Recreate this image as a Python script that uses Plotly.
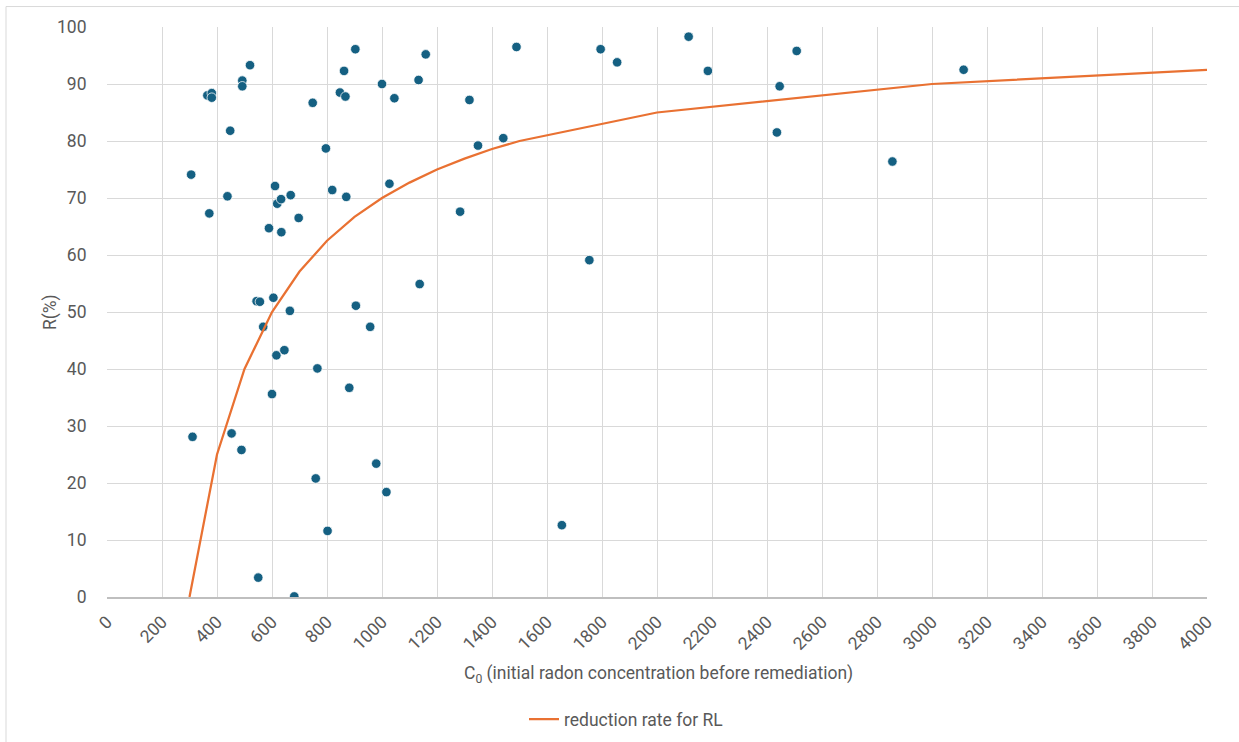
import plotly.graph_objects as go

# Measured houses: initial radon concentration C0 and reduction rate R (%)
c0_measured = [
    306, 311, 365, 381, 381, 372, 448, 438, 453, 492, 492, 489, 520,
    550, 544, 556, 568, 589, 600, 605, 611, 619, 633, 616, 634, 645,
    668, 665, 681, 697, 748, 759, 765, 796, 802, 819, 847, 862, 867,
    870, 881, 903, 905, 957, 979, 1000, 1016, 1027, 1045, 1133, 1137,
    1159, 1284, 1318, 1349, 1441, 1489, 1654, 1754, 1795, 1855, 2115,
    2185, 2436, 2446, 2508, 2856, 3115,
]
r_measured = [
    74.1, 28.1, 88.0, 88.4, 87.6, 67.3, 81.8, 70.3, 28.7, 90.6, 89.6, 25.8, 93.3,
    3.4, 51.9, 51.8, 47.4, 64.7, 35.6, 52.5, 72.1, 69.0, 69.8, 42.4, 64.0, 43.3,
    70.5, 50.2, 0.1, 66.5, 86.7, 20.8, 40.1, 78.7, 11.6, 71.4, 88.5, 92.3, 87.8,
    70.2, 36.7, 96.1, 51.1, 47.4, 23.4, 90.0, 18.4, 72.5, 87.5, 90.7, 54.9,
    95.2, 67.6, 87.2, 79.2, 80.5, 96.5, 12.6, 59.1, 96.1, 93.8, 98.3,
    92.3, 81.5, 89.6, 95.8, 76.4, 92.5,
]

# Required reduction rate to reach the reference level
c0_rl = [300, 400, 500, 600, 700, 800, 900, 1000, 1100, 1200, 1300, 1400,
         1500, 2000, 3000, 4000]
r_rl = [0.0, 25.0, 40.0, 50.0, 57.1, 62.5, 66.7, 70.0, 72.7, 75.0, 76.9, 78.6,
        80.0, 85.0, 90.0, 92.5]

x_ticks = list(range(0, 4001, 200))
y_ticks = list(range(0, 101, 10))

FONT = "Roboto"
TEXT = "#595959"
GRID = "#d9d9d9"
FS = 17.5

fig = go.Figure()

fig.add_trace(go.Scatter(
    x=c0_measured, y=r_measured, mode="markers",
    marker=dict(color="#156082", size=9.5, line=dict(color="white", width=0.75)),
    showlegend=False, hoverinfo="x+y",
))

fig.add_trace(go.Scatter(
    x=c0_rl, y=r_rl, mode="lines",
    line=dict(color="#E97132", width=2.25),
    name="reduction rate for RL",
))

W, H = 1239, 742
left, right, top, bottom = 107, 32, 26.5, 144.5
pw = W - left - right
ph = H - top - bottom


def px(p):
    return (p - left) / pw


def py(p):
    return (H - bottom - p) / ph


fig.update_layout(
    width=W, height=H,
    margin=dict(l=left, r=right, t=top, b=bottom, autoexpand=False),
    paper_bgcolor="white", plot_bgcolor="white",
    font=dict(family=FONT, color=TEXT, size=FS),
    showlegend=True,
    legend=dict(
        orientation="h", x=px(626), xanchor="center", y=py(720), yanchor="middle",
        font=dict(family=FONT, size=FS, color=TEXT), itemwidth=30,
        bgcolor="rgba(0,0,0,0)",
    ),
    xaxis=dict(
        range=[0, 4000], tickmode="array", tickvals=x_ticks,
        ticktext=[str(v) for v in x_ticks], tickangle=-45,
        showgrid=True, gridcolor=GRID, gridwidth=1,
        zeroline=False, showline=True, linecolor="#bfbfbf", linewidth=1.5,
        ticks="outside", ticklen=6, tickcolor="rgba(0,0,0,0)",
        tickfont=dict(family=FONT, size=FS, color=TEXT),
        fixedrange=True,
    ),
    yaxis=dict(
        range=[0, 100], tickmode="array", tickvals=y_ticks,
        showgrid=True, gridcolor=GRID, gridwidth=1,
        zeroline=False, showline=False,
        ticks="outside", ticklen=16, tickcolor="rgba(0,0,0,0)",
        tickfont=dict(family=FONT, size=FS, color=TEXT),
        fixedrange=True,
    ),
    annotations=[
        dict(text="R(%)", x=px(50), y=py(312), xref="paper", yref="paper",
             xanchor="center", yanchor="middle",
             textangle=-90, showarrow=False,
             font=dict(family=FONT, size=FS, color=TEXT)),
        dict(text="C<sub>0</sub> (initial radon concentration before remediation)",
             x=px(658), y=py(675), xref="paper", yref="paper",
             xanchor="center", yanchor="middle",
             showarrow=False, font=dict(family=FONT, size=FS, color=TEXT)),
    ],
    shapes=[
        dict(type="rect", xref="paper", yref="paper",
             x0=px(6), x1=px(1260), y0=py(760), y1=py(6),
             line=dict(color="#d9d9d9", width=1), fillcolor="rgba(0,0,0,0)",
             layer="below"),
    ],
)

fig.write_html("out.html")
